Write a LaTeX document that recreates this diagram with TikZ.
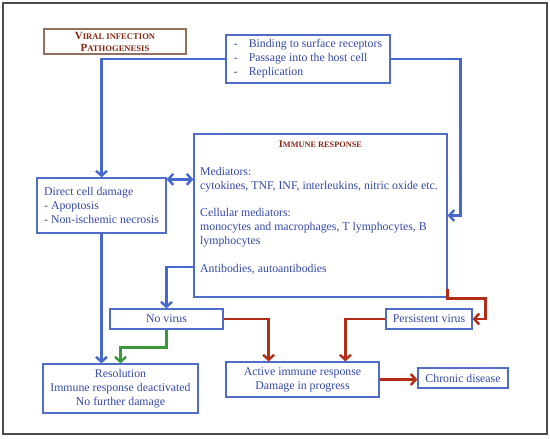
\documentclass[tikz,border=0pt]{standalone}
\usepackage{fontspec}
\setmainfont{Liberation Serif}
\usetikzlibrary{arrows.meta,positioning,calc}
\definecolor{bxblue}{RGB}{78,108,200}
\definecolor{txblue}{RGB}{52,72,168}
\definecolor{arblue}{RGB}{70,104,205}
\definecolor{arred}{RGB}{178,44,22}
\definecolor{argreen}{RGB}{60,150,60}
\definecolor{ttbrown}{RGB}{150,112,95}
\definecolor{ttred}{RGB}{135,40,22}
\tikzset{>={Straight Barb[length=5pt,width=11pt]},
 bx/.style={draw=bxblue,line width=1.2pt,fill=white,text=txblue,inner sep=0pt,align=center},
 tb/.style={draw=ttbrown,line width=1.5pt,fill=white,text=ttred,inner sep=0pt,align=center},
 flow/.style={->,line width=2.4pt,draw=arblue},
 rflow/.style={flow,draw=arred},gflow/.style={flow,draw=argreen},
 txt/.style={text=txblue,align=left,inner sep=0pt}}

\begin{document}
\begin{tikzpicture}[x=1pt,y=-1pt,font=\fontsize{11.8}{14}\selectfont]
\useasboundingbox (0,0) rectangle (550,439);
\draw[line width=1.6pt,draw=black!70] (3,3) rectangle (547,434);
\node[tb,minimum width=142pt,minimum height=25pt,font=\fontsize{11}{12}\selectfont\bfseries](title) at (115,41.5){V{\fontsize{8.6}{12}\selectfont IRAL INFECTION}\\P{\fontsize{8.6}{12}\selectfont ATHOGENESIS}};
\node[bx,minimum width=164pt,minimum height=48pt](entry) at (308,59){\begin{tabular}{@{}l@{\hspace{11pt}}l@{}}-&Binding to surface receptors\\-&Passage into the host cell\\-&Replication\end{tabular}};
\node[bx,align=left,minimum width=129pt,minimum height=55pt](direct) at (101.5,205.5){Direct cell damage\\- Apoptosis\\- Non-ischemic necrosis};
\node[bx,minimum width=253pt,minimum height=163pt](immune) at (320.5,215.5){};
\node[text=ttred,font=\fontsize{10.2}{11}\selectfont\bfseries](imhead) at (320.5,144){I{\fontsize{8.3}{11}\selectfont MMUNE RESPONSE}};
\node[txt,anchor=north west](imtext) at (200,167){Mediators:\\cytokines, TNF, INF, interleukins, nitric oxide etc.\\[13pt]Cellular mediators:\\monocytes and macrophages, T lymphocytes, B\\lymphocytes\\[14pt]Antibodies, autoantibodies};
\node[bx,minimum width=113pt,minimum height=20pt](novirus) at (166.5,319){No virus};
\node[bx,minimum width=86pt,minimum height=20pt](persist) at (429,319){Persistent virus};
\node[bx,minimum width=155pt,minimum height=49pt](res) at (120.5,388.5){Resolution\\Immune response deactivated\\No further damage};
\node[bx,minimum width=153pt,minimum height=35pt](active) at (302.5,379.5){Active immune response\\Damage in progress};
\node[bx,minimum width=90pt,minimum height=20pt](chronic) at (463,378){Chronic disease};
% blue connectors
\draw[flow] (entry.west) -| (direct.north);
\draw[flow] (entry.east) -- ++(70,0) |- (immune.east);
\draw[flow,<->] (direct.north east) ++(0,2) coordinate(d1) -- (d1 -| immune.west);
\draw[flow] (direct.south) -- (direct.south |- res.north);
\draw[flow] (immune.west) ++(0,51.5) -| (novirus.north);
\draw[gflow] (novirus.south) -- ++(0,18) -| (res.north);
% red connectors
\draw[rflow] (novirus.east) -- ++(45,0) coordinate(r1) -- (r1 |- active.north);
\draw[rflow] (immune.south east) ++(0,-9) -- ++(0,10) -- ++(38,0) |- (persist.east);
\draw[rflow] (persist.west) -- ++(-40,0) coordinate(r2) -- (r2 |- active.north);
\draw[rflow] (active.east) -- (active.east -| chronic.west);
\end{tikzpicture}
\end{document}
